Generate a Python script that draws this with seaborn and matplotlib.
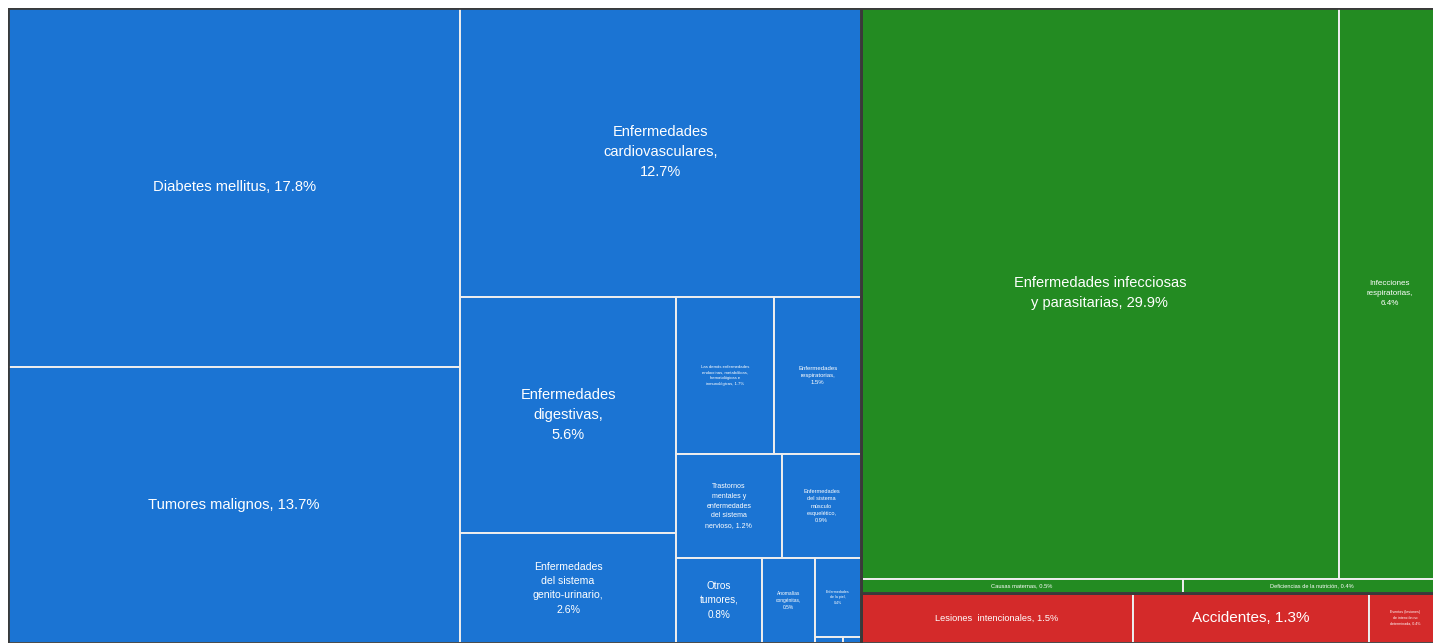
import matplotlib
matplotlib.use("Agg")
import matplotlib.pyplot as plt
import seaborn as sns
import pandas as pd

# ------------------------------------------------------------------ data
group_names = [
    "Enfermedades no transmisibles",
    "Enfermedades transmisibles, maternas, perinatales y nutricionales",
    "Lesiones",
]

# Non-communicable diseases
nt_labels = [
    "Diabetes mellitus, {}",
    "Tumores malignos, {}",
    "Enfermedades\ncardiovasculares,\n{}",
    "Enfermedades\ndigestivas,\n{}",
    "Enfermedades\ndel sistema\ngenito-urinario,\n{}",
    "Las demás enfermedades\nendocrinas, metabólicas,\nhematológicas e\ninmunológicas, {}",
    "Enfermedades\nrespiratorias,\n{}",
    "Trastornos\nmentales y\nenfermedades\ndel sistema\nnervioso, {}",
    "Enfermedades\ndel sistema\nmúsculo\nesquelético,\n{}",
    "Otros\ntumores,\n{}",
    "Anomalías\ncongénitas,\n{}",
    "Enfermedades\nde la piel,\n{}",
    "Enfermedades de los órganos de los sentidos, {}",
    "Afecciones bucodentales, {}",
]
nt_values = [17.8, 13.7, 12.7, 5.6, 2.6, 1.7, 1.5, 1.2, 0.9, 0.8, 0.5, 0.4, 0.018, 0.012]

# Communicable, maternal, nutritional
tr_labels = [
    "Enfermedades infecciosas\ny parasitarias, {}",
    "Infecciones\nrespiratorias,\n{}",
    "Causas maternas, {}",
    "Deficiencias de la nutrición, {}",
]
tr_values = [29.9, 6.4, 0.5, 0.4]

# Injuries
les_labels = [
    "Lesiones  intencionales, {}",
    "Accidentes, {}",
    "Eventos (lesiones)\nde intención no\ndeterminada, {}",
]
les_values = [1.5, 1.3, 0.4]

# ------------------------------------------------------------------ style
group_colors = ["#1b74d3", "#238b22", "#d42a2a"]
# how many items go in each successive row of the squarified layout
top_rows = [1, 1, 1]
group_rows = [
    [2, 1, 2, 2, 2, 1, 1, 1, 1, 1],
    [2, 1, 1],
    [1, 1, 1],
]
# label font sizes in pixels (None = no label, cell too small)
font_px = [
    [14.7, 14.7, 14.6, 14.6, 10.5, 4.2, 6.0, 7.0, 5.6, 10.0, 4.9, 3.6, None, None],
    [14.6, 8.0, 5.8, 5.7],
    [9.3, 15.3, 3.6],
]

DPI = 100
FIG_W, FIG_H = 1433, 643
LEFT, TOP = 8, 8
W, H = 1433, 635  # treemap area (extends slightly past the right edge)


def row_layout(values, x, y, w, h, rows):
    """Squarified-style layout: each row is laid along the shorter side."""
    rects = []
    i = 0
    for n in rows:
        row = values[i:i + n]
        s = sum(row)
        rem = sum(values[i:])
        if w >= h:
            cw = w * s / rem
            yy = y
            for v in row:
                hh = h * v / s
                rects.append((x, yy, cw, hh))
                yy += hh
            x += cw
            w -= cw
        else:
            rh = h * s / rem
            xx = x
            for v in row:
                ww = w * v / s
                rects.append((xx, y, ww, rh))
                xx += ww
            y += rh
            h -= rh
        i += n
    return rects


sns.set_style("white")
plt.rcParams["font.family"] = ["Liberation Sans", "DejaVu Sans"]

all_labels = [nt_labels, tr_labels, les_labels]
all_values = [nt_values, tr_values, les_values]
group_totals = [sum(v) for v in all_values]

group_rects = row_layout(group_totals, 0, 0, W, H, top_rows)

records = []
for g, (gr, labels, values, rows) in enumerate(zip(group_rects, all_labels, all_values, group_rows)):
    cells = row_layout(values, *gr, rows)
    for (x, y, w, h), lab, v, fp in zip(cells, labels, values, font_px[g]):
        records.append(dict(group=group_names[g], label=lab.format(f"{v:.1f}%"),
                            value=v, x=x, y=y, w=w, h=h, color=group_colors[g], fpx=fp))
df = pd.DataFrame(records)
gdf = pd.DataFrame(group_rects, columns=["x", "y", "w", "h"])

fig = plt.figure(figsize=(FIG_W / DPI, FIG_H / DPI), dpi=DPI)
fig.patch.set_facecolor("white")
ax = fig.add_axes([LEFT / FIG_W, 1 - (TOP + H) / FIG_H, W / FIG_W, H / FIG_H])

ax.bar(df["x"], df["h"], width=df["w"], bottom=df["y"], align="edge",
       color=df["color"], edgecolor="#eeeeee", linewidth=1.4)
ax.bar(gdf["x"], gdf["h"], width=gdf["w"], bottom=gdf["y"], align="edge",
       fill=False, edgecolor="#3a3a3a", linewidth=2.0)

for _, r in df.iterrows():
    if r["fpx"] is None or pd.isna(r["fpx"]):
        continue
    ax.text(r["x"] + r["w"] / 2, r["y"] + r["h"] / 2, r["label"],
            ha="center", va="center", color="white",
            fontsize=r["fpx"] * 72 / DPI, linespacing=1.55)

ax.set_xlim(0, W)
ax.set_ylim(H, 0)
ax.axis("off")

fig.savefig("out.png", dpi=DPI, facecolor="white")
